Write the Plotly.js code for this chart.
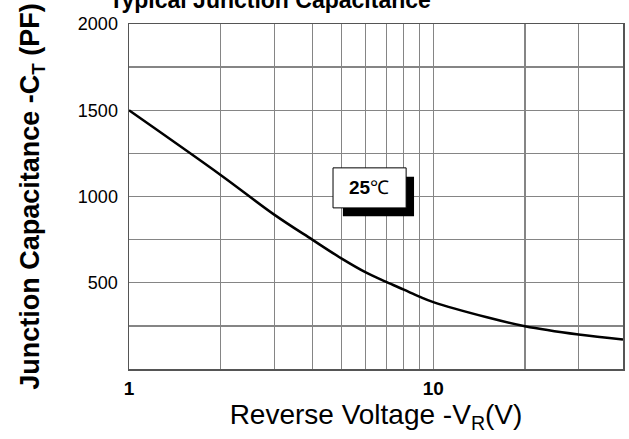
<!DOCTYPE html>
<html>
<head>
<meta charset="utf-8">
<script src="https://cdn.plot.ly/plotly-3.0.1.min.js"></script>
<style>html,body{margin:0;padding:0;background:#fff;}#chart{width:629px;height:439px;}</style>
</head>
<body>
<div id="chart"></div>
<script>
var voltage = [1, 2, 3, 4, 5, 6, 7, 8, 9, 10, 15, 20, 30, 42];
var capacitance = [1500, 1125, 895, 750, 640, 560, 505, 460, 420, 388, 300, 248, 200, 171];
var xTickVals = [1, 2, 3, 4, 5, 6, 7, 8, 9, 10, 20, 30];
var xTickText = ["1", "", "", "", "", "", "", "", "", "10", "", ""];
var yTickVals = [250, 500, 750, 1000, 1250, 1500, 1750, 2000];
var yTickText = ["", "500", "", "1000", "", "1500", "", "2000"];

var trace = {
  x: voltage, y: capacitance, type: 'scatter', mode: 'lines',
  line: {color: '#000', width: 2.5, shape: 'spline', smoothing: 1},
  hoverinfo: 'skip'
};

var layout = {
  width: 629, height: 439,
  margin: {l: 129, r: 6, t: 24, b: 70},
  paper_bgcolor: '#fff', plot_bgcolor: '#fff',
  showlegend: false,
  font: {family: 'Arial, "Liberation Sans", sans-serif', color: '#000'},
  title: {
    text: '<b>Typical Junction Capacitance</b>',
    font: {size: 23, color: '#000'},
    x: 270/629, xanchor: 'center', xref: 'container',
    y: 1.0, yanchor: 'middle', yref: 'container'
  },
  xaxis: {
    type: 'log', range: [0, Math.log10(42)],
    tickvals: xTickVals, ticktext: xTickText,
    ticks: 'outside', ticklen: 2, tickcolor: 'rgba(0,0,0,0)',
    tickfont: {size: 19, family: 'Arial, "Liberation Sans", sans-serif', weight: 'bold'},
    showgrid: true, gridcolor: '#858585', gridwidth: 1.3,
    showline: true, mirror: true, linecolor: '#555', linewidth: 1.5,
    zeroline: false, fixedrange: true,
    title: {text: 'Reverse Voltage -V<sub>R</sub>(V)', font: {size: 28}, standoff: 6}
  },
  yaxis: {
    range: [0, 2000],
    tickvals: yTickVals, ticktext: yTickText,
    ticks: 'outside', ticklen: 6, tickcolor: 'rgba(0,0,0,0)',
    tickfont: {size: 18},
    showgrid: true, gridcolor: '#858585', gridwidth: 1.3,
    showline: true, mirror: true, linecolor: '#555', linewidth: 1.5,
    zeroline: false, fixedrange: true,
    title: {text: '<b>Junction Capacitance -C<sub>T</sub> (PF)</b>', font: {size: 27}, standoff: 30}
  },
  shapes: [
    {type: 'rect', xref: 'paper', yref: 'paper', x0: 0.433, x1: 0.577, y0: 0.443, y1: 0.557,
     fillcolor: '#000', line: {width: 0}, layer: 'above'},
    {type: 'rect', xref: 'paper', yref: 'paper', x0: 0.413, x1: 0.561, y0: 0.467, y1: 0.583,
     fillcolor: '#fff', line: {color: '#000', width: 1}, layer: 'above'}
  ],
  annotations: [
    {xref: 'paper', yref: 'paper', x: 0.486, y: 0.525, xanchor: 'center', yanchor: 'middle',
     text: '<b>25</b>℃', showarrow: false, font: {size: 19, color: '#000'}}
  ]
};

Plotly.newPlot('chart', [trace], layout, {displayModeBar: false, staticPlot: true});
</script>
</body>
</html>
